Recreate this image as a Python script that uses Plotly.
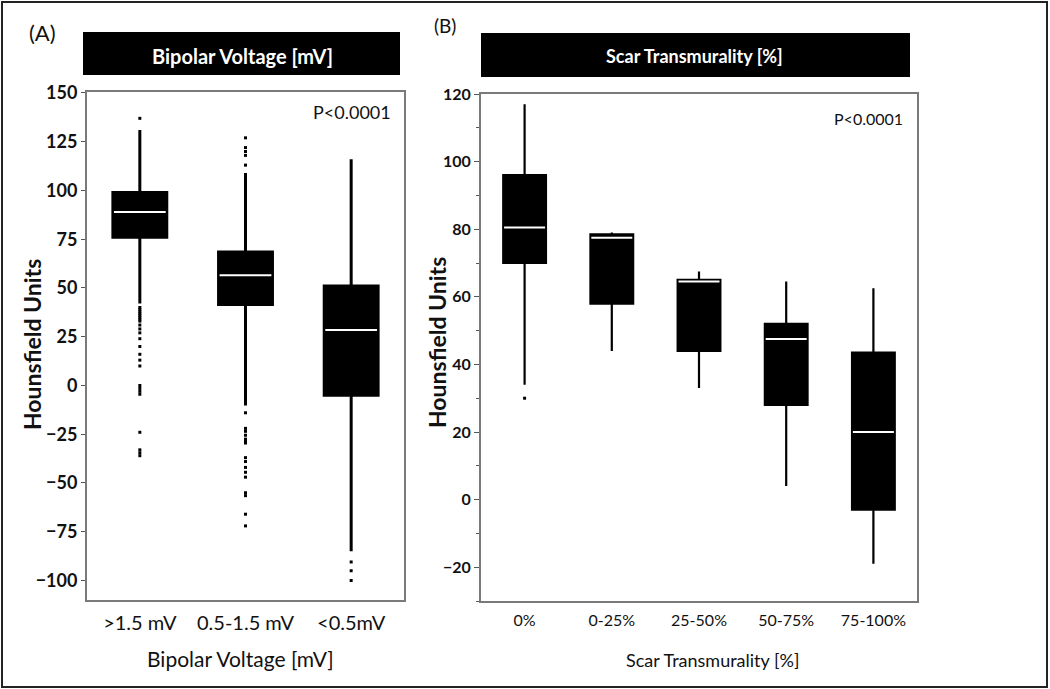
import plotly.graph_objects as go

W, H = 1050, 689

# ---------------- Data ----------------
# Panel A: Bipolar voltage
a_categories = [">1.5 mV", "0.5-1.5 mV", "<0.5mV"]
a_lower = [42, -1, -85]
a_q1 = [76, 41.5, -5]
a_median = [89, 56.5, 28.5]
a_q3 = [99, 68.5, 51]
a_upper = [131, 109, 116]
a_outliers = [
    [137, 40, 39, 38, 37, 36, 35, 34, 33, 31, 29, 27, 24, 20, 16, 13, 10,
     0, -1.5, -3, -4.5, -24, -33, -34.5, -36],
    [127, 122, 120, 118, 113,
     -1.5, -2.5, -3.5, -4.5, -5.5, -6.5, -7.5, -8.5, -9.5, -14,
     -22, -23.5, -25.5, -27.5, -28.5, -29.5, -37, -39, -42, -44.5, -47,
     -55, -56.5, -66, -72],
    [-90.5, -95, -100],
]
a_yticks = [-100, -75, -50, -25, 0, 25, 50, 75, 100, 125, 150]

# Panel B: Scar transmurality
b_categories = ["0%", "0-25%", "25-50%", "50-75%", "75-100%"]
b_lower = [34, 44, 33, 4, -19]
b_q1 = [70, 58, 44, 28, -3]
b_median = [80.5, 77.5, 64.5, 47.5, 20]
b_q3 = [96, 78.5, 65, 52, 43.5]
b_upper = [117, 79, 67.5, 64.5, 62.5]
b_outliers = [[30], [], [], [], []]
b_yticks = [-20, 0, 20, 40, 60, 80, 100, 120]

# ---------------- Layout helpers ----------------
def px(x):
    return x / W

def py(y):
    return 1 - y / H

FONT = "Lato, 'Open Sans', Arial, sans-serif"
a_w = 0.51
b_w = 0.49

fig = go.Figure()

# Panel A boxes
fig.add_trace(go.Box(
    x=list(range(len(a_categories))), q1=a_q1, median=a_median, q3=a_q3,
    lowerfence=a_lower, upperfence=a_upper,
    fillcolor="black", line=dict(color="black", width=3), width=a_w,
    whiskerwidth=0, boxpoints=False, hoverinfo="skip", showlegend=False,
    xaxis="x", yaxis="y",
))
for i, m in enumerate(a_median):
    fig.add_trace(go.Scatter(
        x=[i - a_w / 2 + 0.01, i + a_w / 2 - 0.01], y=[m, m], mode="lines",
        line=dict(color="white", width=2), showlegend=False, hoverinfo="skip",
        xaxis="x", yaxis="y"))
for i, pts in enumerate(a_outliers):
    fig.add_trace(go.Scatter(
        x=[i] * len(pts), y=pts, mode="markers",
        marker=dict(color="black", size=3, symbol="square"),
        showlegend=False, hoverinfo="skip", xaxis="x", yaxis="y"))

# Panel B boxes
fig.add_trace(go.Box(
    x=list(range(len(b_categories))), q1=b_q1, median=b_median, q3=b_q3,
    lowerfence=b_lower, upperfence=b_upper,
    fillcolor="black", line=dict(color="black", width=2.2), width=b_w,
    whiskerwidth=0, boxpoints=False, hoverinfo="skip", showlegend=False,
    xaxis="x2", yaxis="y2",
))
for i, m in enumerate(b_median):
    fig.add_trace(go.Scatter(
        x=[i - b_w / 2 + 0.01, i + b_w / 2 - 0.01], y=[m, m], mode="lines",
        line=dict(color="white", width=2), showlegend=False, hoverinfo="skip",
        xaxis="x2", yaxis="y2"))
for i, pts in enumerate(b_outliers):
    if pts:
        fig.add_trace(go.Scatter(
            x=[i] * len(pts), y=pts, mode="markers",
            marker=dict(color="black", size=3, symbol="square"),
            showlegend=False, hoverinfo="skip", xaxis="x2", yaxis="y2"))

axis_line = dict(showline=True, linecolor="#7a7a7a", linewidth=2, mirror=True,
                 showgrid=False, zeroline=False, automargin=False)

fig.update_layout(
    width=W, height=H,
    margin=dict(l=0, r=0, t=0, b=0, autoexpand=False),
    paper_bgcolor="white", plot_bgcolor="white",
    font=dict(family=FONT, color="#111"),
    xaxis=dict(domain=[px(87), px(404)], range=[-0.5, 2.5],
               tickvals=list(range(len(a_categories))), ticktext=a_categories,
               ticks="", ticklabelstandoff=4,
               tickfont=dict(size=20, color="#111"), anchor="y",
               **axis_line),
    yaxis=dict(domain=[py(600), py(92)], range=[-110, 150.5],
               tickvals=a_yticks, ticks="outside", ticklen=4, tickwidth=1,
               tickcolor="#555", tickfont=dict(size=18, color="#111", weight="bold"),
               anchor="x", **axis_line),
    xaxis2=dict(domain=[px(481), px(917)], range=[-0.5, 4.5],
                tickvals=list(range(len(b_categories))), ticktext=b_categories,
                ticks="", ticklabelstandoff=4,
                tickfont=dict(size=16, color="#111"), anchor="y2",
                **axis_line),
    yaxis2=dict(domain=[py(601), py(94)], range=[-30, 120],
                tickvals=b_yticks, ticks="outside", ticklen=5, tickwidth=1,
                tickcolor="#555", tickfont=dict(size=16, color="#111", weight="bold"),
                minor=dict(dtick=10, ticks="outside", ticklen=3, tickcolor="#555"),
                anchor="x2", **axis_line),
)

shapes = [
    dict(type="rect", xref="paper", yref="paper", x0=px(2), x1=px(1047),
         y0=py(687), y1=py(2), line=dict(color="#222", width=2), layer="above"),
    dict(type="rect", xref="paper", yref="paper", x0=px(83), x1=px(400),
         y0=py(75), y1=py(32), fillcolor="black", line=dict(width=0)),
    dict(type="rect", xref="paper", yref="paper", x0=px(481), x1=px(910),
         y0=py(77), y1=py(33), fillcolor="black", line=dict(width=0)),
]
fig.update_layout(shapes=shapes)

def ann(x, y, text, size, color="#111", bold=False, angle=0, xanchor="center"):
    return dict(xref="paper", yref="paper", x=px(x), y=py(y), text=text,
                showarrow=False, xanchor=xanchor, yanchor="middle",
                textangle=angle,
                font=dict(family=FONT, size=size, color=color,
                          weight="bold" if bold else "normal"))

annotations = [
    ann(42, 32, "(A)", 22),
    ann(445, 26, "(B)", 19),
    ann(242, 56, "Bipolar Voltage [mV]", 20, color="white", bold=True),
    ann(694, 56, "Scar Transmurality [%]", 18, color="white", bold=True),
    ann(393, 112, "P<0.0001", 18, xanchor="right"),
    ann(905, 118, "P<0.0001", 16, xanchor="right"),
    ann(32, 345, "Hounsfield Units", 23, bold=True, angle=-90),
    ann(437, 343, "Hounsfield Units", 23, bold=True, angle=-90),
    ann(240, 658, "Bipolar Voltage [mV]", 21),
    ann(712, 660, "Scar Transmurality [%]", 18),
]
fig.update_layout(annotations=annotations)

fig.write_html(
    "out.html",
    config={"displayModeBar": False},
    post_script="document.body.style.margin='0';document.body.style.overflow='hidden';",
)
